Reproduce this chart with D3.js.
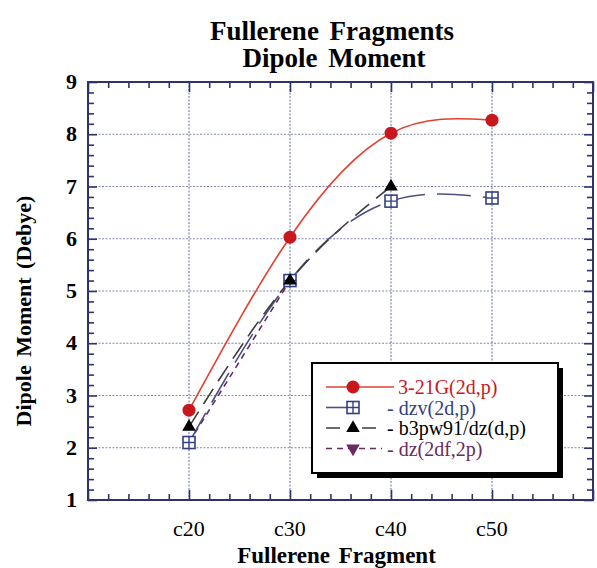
<!DOCTYPE html>
<html>
<head>
<meta charset="utf-8">
<script src="https://cdn.jsdelivr.net/npm/d3@7"></script>
<style>
  body { margin: 0; background: #fff; }
  svg { font-family: "Liberation Serif", "Times New Roman", serif; }
</style>
</head>
<body>
<div id="chart"></div>
<script>
// categories and series
const categories = ["c20", "c30", "c40", "c50"];
const yTicks = [1, 2, 3, 4, 5, 6, 7, 8, 9];
const series321G = [2.72, 6.03, 8.02, 8.27];      // 3-21G(2d,p)
const seriesDzv = [2.1, 5.2, 6.72, 6.78];         // dzv(2d,p)
const seriesB3pw91 = [2.4, 5.2, 7.0];             // b3pw91/dz(d,p)
const seriesDz2df = [2.1, 5.2];                   // dz(2df,2p)

const width = 597, height = 568;
const margin = { left: 88, top: 82, right: 4, bottom: 68 };
const innerW = width - margin.left - margin.right;
const innerH = height - margin.top - margin.bottom;

const axisColor = "#2e336e";
const gridColor = "#7f86b5";

const svg = d3.select("#chart").append("svg")
    .attr("width", width)
    .attr("height", height);

// Titre
svg.append("text")
    .attr("x", 332).attr("y", 40)
    .attr("text-anchor", "middle")
    .style("font-size", "27px").style("font-weight", "bold")
    .style("word-spacing", "4px")
    .text("Fullerene Fragments");
svg.append("text")
    .attr("x", 334).attr("y", 67)
    .attr("text-anchor", "middle")
    .style("font-size", "27px").style("font-weight", "bold")
    .style("word-spacing", "4px")
    .text("Dipole Moment");

const g = svg.append("g")
    .attr("transform", `translate(${margin.left},${margin.top})`);

// Escalas
const x = d3.scaleLinear().domain([0, categories.length + 1]).range([0, innerW]);
const y = d3.scaleLinear().domain([1, 9]).range([innerH, 0]);

const xMajor = d3.range(0, categories.length + 2);
const xMinor = d3.range(0, categories.length + 1.001, 0.2).filter(v => Math.abs(v - Math.round(v)) > 1e-6);
const yMinor = d3.range(1, 9.001, 0.2).filter(v => Math.abs(v - Math.round(v)) > 1e-6);

// Grille pointillée
g.append("g").selectAll("line")
    .data(categories.map((c, i) => i + 1))
    .enter().append("line")
    .attr("x1", d => x(d)).attr("x2", d => x(d))
    .attr("y1", 0).attr("y2", innerH)
    .style("stroke", gridColor).style("stroke-width", 1.2)
    .style("stroke-dasharray", "2,1.5");
g.append("g").selectAll("line")
    .data(yTicks.slice(1, -1))
    .enter().append("line")
    .attr("x1", 0).attr("x2", innerW)
    .attr("y1", d => y(d)).attr("y2", d => y(d))
    .style("stroke", gridColor).style("stroke-width", 1.2)
    .style("stroke-dasharray", "2,1.5");

// Ejes: marcas hacia dentro en los cuatro lados
function styleAxis(sel) {
    sel.select(".domain").remove();
    sel.selectAll(".tick line").style("stroke", axisColor).style("stroke-width", 1.6);
}

g.append("g").attr("transform", `translate(0,${innerH})`)
    .call(d3.axisBottom(x).tickValues(xMajor).tickSize(-10).tickFormat(""))
    .call(styleAxis);
g.append("g").attr("transform", `translate(0,${innerH})`)
    .call(d3.axisBottom(x).tickValues(xMinor).tickSize(-6).tickFormat(""))
    .call(styleAxis);
g.append("g")
    .call(d3.axisTop(x).tickValues(xMajor).tickSize(-10).tickFormat(""))
    .call(styleAxis);
g.append("g")
    .call(d3.axisTop(x).tickValues(xMinor).tickSize(-6).tickFormat(""))
    .call(styleAxis);

g.append("g")
    .call(d3.axisLeft(y).tickValues(yTicks).tickSize(-9).tickFormat(""))
    .call(styleAxis);
g.append("g")
    .call(d3.axisLeft(y).tickValues(yMinor).tickSize(-6).tickFormat(""))
    .call(styleAxis);
g.append("g").attr("transform", `translate(${innerW},0)`)
    .call(d3.axisRight(y).tickValues(yTicks).tickSize(-9).tickFormat(""))
    .call(styleAxis);
g.append("g").attr("transform", `translate(${innerW},0)`)
    .call(d3.axisRight(y).tickValues(yMinor).tickSize(-6).tickFormat(""))
    .call(styleAxis);

// Etiquetas de los ejes
g.append("g").selectAll("text")
    .data(yTicks)
    .enter().append("text")
    .attr("x", -11).attr("y", d => y(d) + 7)
    .attr("text-anchor", "end")
    .style("font-size", "22px").style("font-weight", "bold")
    .text(d => d);
g.append("g").selectAll("text")
    .data(categories)
    .enter().append("text")
    .attr("x", (d, i) => x(i + 1)).attr("y", innerH + 36)
    .attr("text-anchor", "middle")
    .style("font-size", "22px")
    .text(d => d);

// Cadre
g.append("rect")
    .attr("width", innerW).attr("height", innerH)
    .style("fill", "none").style("stroke", axisColor).style("stroke-width", 2);

svg.append("text")
    .attr("x", margin.left + innerW / 2 - 4).attr("y", 563)
    .attr("text-anchor", "middle")
    .style("font-size", "23px").style("font-weight", "bold")
    .style("word-spacing", "3px")
    .text("Fullerene Fragment");
svg.append("text")
    .attr("transform", `translate(31,${margin.top + innerH / 2 + 20}) rotate(-90)`)
    .attr("text-anchor", "middle")
    .style("font-size", "22px").style("font-weight", "bold")
    .style("word-spacing", "3px")
    .text("Dipole Moment (Debye)");

// Courbes
const line = d3.line()
    .x((d, i) => x(i + 1))
    .y(d => y(d))
    .curve(d3.curveNatural);

const s321G = { name: "3-21G(2d,p)", values: series321G, color: "#c8181e", line: "#e04030", dash: null, legendDash: null, marker: "circle" };
const sDzv = { name: "dzv(2d,p)", values: seriesDzv, color: "#35407f", line: "#4a5080", dash: "34,12", legendDash: "26,40", marker: "boxplus" };
const sB3 = { name: "b3pw91/dz(d,p)", values: seriesB3pw91, color: "#000", line: "#3c3c3c", dash: "18,9", legendDash: "14,22", marker: "up" };
const sDz = { name: "dz(2df,2p)", values: seriesDz2df, color: "#6a2a62", line: "#6a2a62", dash: "6,5", legendDash: "6,5", marker: "down" };

// orden de dibujo (de abajo a arriba) y orden de la leyenda
const drawOrder = [sDz, sDzv, sB3, s321G];
const legendOrder = [s321G, sDzv, sB3, sDz];

function drawMarker(sel, kind, color) {
    if (kind === "circle") {
        sel.append("circle").attr("r", 6.5).style("fill", color);
    } else if (kind === "up") {
        sel.append("path").attr("d", d3.symbol(d3.symbolTriangle, 80)()).style("fill", color);
    } else if (kind === "down") {
        sel.append("path").attr("d", d3.symbol(d3.symbolTriangle, 80)())
            .attr("transform", "rotate(180)").style("fill", color);
    } else if (kind === "boxplus") {
        sel.append("rect").attr("x", -6).attr("y", -6).attr("width", 12).attr("height", 12)
            .style("fill", "#fff").style("stroke", color).style("stroke-width", 1.6);
        sel.append("path").attr("d", "M-6,0H6M0,-6V6")
            .style("stroke", color).style("stroke-width", 1.4);
    }
}

drawOrder.forEach(s => {
    g.append("path")
        .datum(s.values)
        .attr("d", line)
        .style("fill", "none")
        .style("stroke", s.line)
        .style("stroke-width", 1.6)
        .style("stroke-dasharray", s.dash);
});
drawOrder.forEach(s => {
    g.append("g").selectAll("g")
        .data(s.values)
        .enter().append("g")
        .attr("transform", (d, i) => `translate(${x(i + 1)},${y(d)})`)
        .each(function () { drawMarker(d3.select(this), s.marker, s.color); });
});

// Leyenda
const legend = svg.append("g").attr("transform", "translate(312,363)");
legend.append("rect").attr("x", 5).attr("y", 5).attr("width", 246).attr("height", 110)
    .style("fill", "#000");
legend.append("rect").attr("width", 246).attr("height", 110)
    .style("fill", "#fff").style("stroke", "#000").style("stroke-width", 2);

const rowY = i => 24 + i * 20.5;
legendOrder.forEach((s, i) => {
    const row = legend.append("g").attr("transform", `translate(0,${rowY(i)})`);
    row.append("line")
        .attr("x1", 14).attr("x2", s.marker === "circle" ? 82 : 70)
        .style("stroke", s.line).style("stroke-width", 1.6)
        .style("stroke-dasharray", s.legendDash);
    const m = row.append("g").attr("transform", "translate(41,0)");
    drawMarker(m, s.marker, s.color);
});
// un solo bloque de texto con una línea por serie
const legendText = legend.append("text").style("font-size", "20px");
legendOrder.forEach((s, i) => {
    legendText.append("tspan")
        .attr("x", s.marker === "circle" ? 86 : 75)
        .attr("y", rowY(i) + 7)
        .style("fill", s.color)
        .text((s.marker === "circle" ? "" : "- ") + s.name);
});
</script>
</body>
</html>
